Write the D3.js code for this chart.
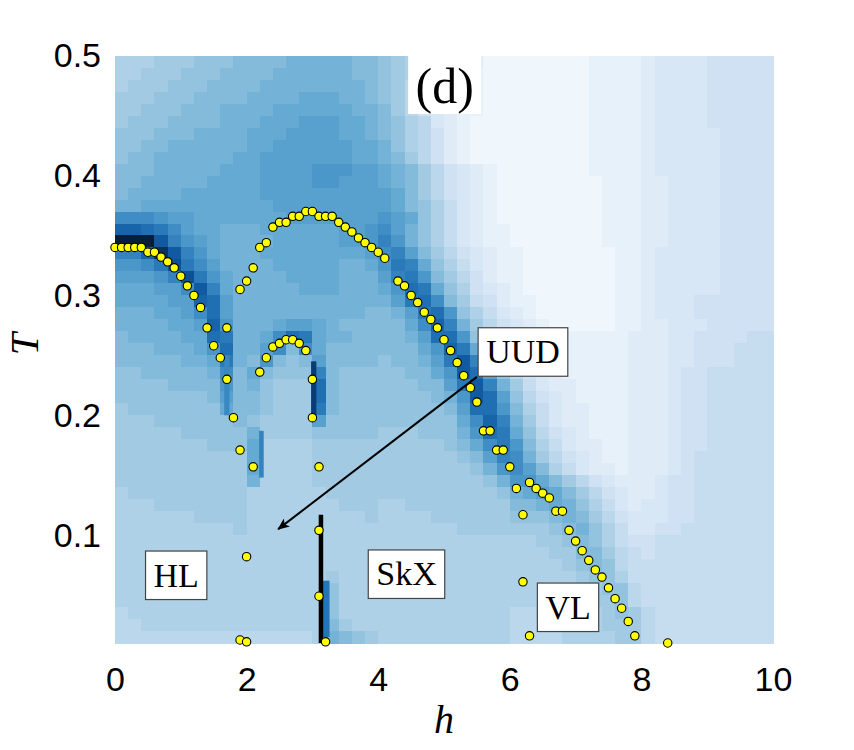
<!DOCTYPE html>
<html>
<head>
<meta charset="utf-8">
<script src="https://cdn.jsdelivr.net/npm/d3@7"></script>
<style>
  body { margin: 0; background: #fff; }
</style>
</head>
<body>
<div id="chart"></div>
<script>
// heat map: one string per T row (top row 0.49-0.50 first), one letter per h bin of 0.2
// letter a..z -> intensity 0..1
const heatRows = [
  "iiijjjkkkl lllmmmmmll kjihgfedbb bbbbbbcccc deeeefffff",
  "iijjjkkkll llmmmmmmll kjihgedcbb bbbbbbcccc deeeefffff",
  "ijjjkkklll lmmmmmmmml kjhgfedcbb bbbbbbcccc deeeefffff",
  "jjjkkkllll mmmmnnnmml kjhgfedcbb bbbbbbcccc deeeefffff",
  "jjkkklllmm mmnnnnnnmm ljhfedccbb bbbbbbcccc deeeefffff",
  "jkkkllllmm mnnnooonnm lkihedcbbb bbbbbbcccc deeeefffff",
  "kkklllmmmm nnnoooonnm lkihfdcbbb bbbbbbcccc deeeeeffff",
  "kkllmmmmmm nnoooooonn mkihfdcbbb bbbbbbcccc deeeeeffff",
  "kllmmmmmmn nooooooonn mljhfdcbbb bbbbbbcccc deeeeeffff",
  "lllmmmmmnn noooopppoo nmljhfedcb bbbbbbcccc deeeeeffff",
  "llmmmmmnnn nooooppooo nmljhfedcb bbbbbbbccc ddeeeeffff",
  "lmmmmnnnnn nooooooooo onljhfedcb bbbbbbbccc ddeeeeffff",
  "mmnnnnnnnn nnoooooooo onlkigedcb bbbbbbbccc ddeeeeffff",
  "qqqpoonnnn nnnooooooo ponkigedcb bbbbbbbccc ddeeeeffff",
  "uutsqonnmm mnnnnnnoop qomkigedcc bbbbbbbccc ddeeeeffff",
  "zzzvrponmm mmnnnnnoop rpmkigedcc bbbbbbbccc ddeeeeffff",
  "rruyvrpnmm mnnnnnnnno qroljhfedc cbbbbbbbcc deeeeeffff",
  "ppqswsqomm mmnnnnnmmn psrnkigedc cbbbbbbbcc deeeeeffff",
  "oooprwspnm mmmnnnnmmm orspljhfdc cbbbbbbbcc deeeeeffff",
  "nnnooqvrnm mmmmnnnmmm nptsnkifed cbbbbbbbcc deeeeeffff",
  "nnnnooutom mmmmmmmmmm mostqljgfd ccbbbbbbcc deeeffffff",
  "mmmnnoqtom mmmmmmmmml lmostpkige dcbbbbbbcc deeeffffff",
  "mmmmnnoupm mmnoonmlll llnqurmjhf edcbbbbbcc ddeeefffff",
  "lmmmmnntsm mnqtsnmmll llmottpkig edcccccccd ddeeffffgg",
  "lllmmmnptm moqlqnllll lllnpusnkh fedccccccd ddeefffggg",
  "lllllmmnsm lplklollll kllmosvrmj geddcccccd ddeefffggg",
  "kklllllmql nlkkkrlkkk kkllnpvtok hfedcccccd ddeffggggg",
  "kkkkllllpl mkjjjtlkkk kkkllosvrm jgeddccccd ddeffggggg",
  "kkkkkkklol lkjjjtlkkk kkkklmpvto khfedccccd ddeffggggg",
  "jkkkkkkknl lkjjjslkkk kkkkklottp ligeddcccd ddeffggggg",
  "jjjkkkkkkl kjjjjokkkk kkkkkknqur mjgeddcccd ddeffggggg",
  "jjjjjkkkkk mjjjjkkkkk jjjkkkmpts nkhfedcccd ddeffggggg",
  "jjjjjjjkkk niiiijjjjj jjjjjklnqs pligeddccd ddeffggggg",
  "jjjjjjjjjj niiiijjjjj jjjjjjklor qmjhfedccd ddefgggggg",
  "jjjjjjjjjj niiiijjjjj jjjjjjjkmp qoligeddcd ddefgggggg",
  "jjjjjjjjjj miiiijjjjj jjjjjjjjkm ppnljhfedd deffgggggg",
  "ijjjjjjjjj iiiiiijjjj jjjjjjjjjk mnonljhfed deffgggggg",
  "iiijjjjjjj iiiiiiijjj iijjjjjjjj llmnmkiged eeffgggggg",
  "iiiiiijjjj iiiiiiiiij iiiijjjjjj kkklmljhfe eeffgggggg",
  "iiiiiiiiij iiiiiiiiii iiiiiijjjj jjjklmkige effggggggg",
  "iiiiiiiiii iiiiiiiiii iiiiiiiiii iijjklkigf fggggggggg",
  "iiiiiiiiii iiiiiiiiii iiiiiiiiii iiijjlljhg fggggggggg",
  "iiiiiiiiii iiiiiiiiii iiiiiiiiii iiiijklkhg gggggggggg",
  "iiiiiiiiii iiiiiijiii iiiiiiiiii iiiiijkkig gggggggggg",
  "iiiiiiiiii iiiiiikiii iiiiiiiiii iiiiiijkkh gggggggggg",
  "iiiiiiiiii iiiiiikiii iiiiiiiiii iiiiiijjkh gggggggggg",
  "hiiiiiiiii iiiiiikiii iiiiiiiiii hhiiiiijkj hggggggggg",
  "hhiiiiiiii iiiiiiljii iiiiiiiiii hhhiiiijjj hggggggggg",
  "hhhhhhhhhh hhhhhimlkj iiiiiiiiii hhhhiiiijj hggggggggg"
];
const hBin = 0.2, tBin = 0.01;

// transition points (h, T)
const ptH = [0, 0.1, 0.2, 0.3, 0.4, 0.5, 0.6, 0.7, 0.8, 0.9, 1.0, 1.1, 1.2, 1.3, 1.4, 1.5, 1.6, 1.7, 1.8, 1.9, 2.1, 2.0, 1.9, 2.0, 1.7,
  1.9, 2.0, 2.1, 2.2, 2.3, 2.4, 2.5, 2.6, 2.7, 2.8, 2.9, 3.0, 3.1, 3.2, 3.3, 3.4, 3.5, 3.6, 3.7, 3.8, 3.9, 4.0, 4.1,
  4.3, 4.4, 4.5, 4.6, 4.7, 4.8, 4.9, 5.0, 5.1, 5.2, 5.3, 5.4, 5.5, 5.6, 5.7, 5.8, 5.9, 6.0, 6.1, 6.2, 6.2, 6.3,
  6.3, 6.4, 6.5, 6.6, 6.7, 6.8, 6.9, 7.0, 7.1, 7.2, 7.3, 7.4, 7.5, 7.6, 7.7, 7.8, 7.9, 8.4,
  2.2, 2.3, 2.4, 2.5, 2.6, 2.7, 2.8, 2.9, 3.0, 3.0, 3.1, 3.1, 3.1, 3.2];
const ptT = [0.34, 0.34, 0.34, 0.34, 0.34, 0.336, 0.336, 0.332, 0.328, 0.323, 0.316, 0.308, 0.300, 0.290, 0.273, 0.258, 0.248, 0.230, 0.198, 0.171, 0.157, 0.082, 0.0125, 0.011, 0.273,
  0.305, 0.312, 0.323, 0.340, 0.344, 0.357, 0.361, 0.361, 0.366, 0.366, 0.370, 0.370, 0.366, 0.366, 0.366, 0.361, 0.357, 0.353, 0.348, 0.344, 0.340, 0.336, 0.331,
  0.312, 0.308, 0.300, 0.294, 0.286, 0.280, 0.273, 0.263, 0.254, 0.244, 0.233, 0.223, 0.211, 0.187, 0.187, 0.171, 0.171, 0.157, 0.139, 0.117, 0.061, 0.016,
  0.144, 0.139, 0.135, 0.131, 0.120, 0.120, 0.104, 0.095, 0.087, 0.079, 0.071, 0.065, 0.056, 0.047, 0.039, 0.028, 0.016, 0.010,
  0.236, 0.248, 0.257, 0.260, 0.263, 0.263, 0.260, 0.254, 0.230, 0.198, 0.157, 0.104, 0.049, 0.011];

// thin dark streaks of the map: [h0, h1, T0, T1, intensity]
const streakH0 = [2.98, 2.19, 1.66, 3.16];
const streakH1 = [3.06, 2.26, 1.74, 3.26];
const streakT0 = [0.198, 0.148, 0.200, 0.015];
const streakT1 = [0.245, 0.187, 0.250, 0.062];
const streakV = [0.94, 0.68, 0.66, 0.74];

// thick vertical line, arrow, phase labels
const barH = 3.13, barT = [0.01, 0.117];
const arrowH = [5.5, 2.48], arrowT = [0.232, 0.105];
const labelText = ["HL", "SkX", "UUD", "VL"];
const labelH = [0.93, 4.43, 6.2, 6.885];
const labelT = [0.0667, 0.0676, 0.253, 0.040];
const xTicks = [0, 2, 4, 6, 8, 10];
const yTicks = [0.1, 0.2, 0.3, 0.4, 0.5];

const width = 854, height = 750;
const marginLeft = 115, plotRight = 773, plotTop = 55.7, plotBottom = 643;

const x = d3.scaleLinear().domain([0, 10]).range([marginLeft, plotRight]);
const y = d3.scaleLinear().domain([0.01, 0.5]).range([plotBottom, plotTop]);

const dark = d3.interpolateRgb(d3.interpolateBlues(0.92), "#0a1e36");
const color = t => t <= 0.92 ? d3.interpolateBlues(t) : dark((t - 0.92) / 0.08);

const cells = [];
heatRows.forEach((row, r) => {
  const s = row.replace(/ /g, "");
  for (let c = 0; c < 50; c++) {
    const ch = s.charAt(c) || s.charAt(s.length - 1);
    cells.push({h0: c * hBin, t1: 0.5 - r * tBin, v: (ch.charCodeAt(0) - 97) / 25});
  }
});

const svg = d3.select("#chart")
  .append("svg")
  .attr("width", width)
  .attr("height", height)
  .attr("viewBox", [0, 0, width, height])
  .style("font-family", "'Liberation Sans', Arial, sans-serif");

svg.append("defs").append("marker")
  .attr("id", "head")
  .attr("viewBox", "0 0 12 10")
  .attr("refX", 11).attr("refY", 5)
  .attr("markerWidth", 12).attr("markerHeight", 10)
  .attr("markerUnits", "userSpaceOnUse")
  .attr("orient", "auto")
  .append("path")
  .attr("d", "M0,0 L12,5 L0,10 L3,5 Z")
  .attr("fill", "#000");

// heat map
svg.append("g")
  .attr("shape-rendering", "crispEdges")
  .selectAll("rect")
  .data(cells)
  .join("rect")
  .attr("x", d => x(d.h0))
  .attr("y", d => y(d.t1))
  .attr("width", d => x(d.h0 + hBin) - x(d.h0) + 0.6)
  .attr("height", d => y(d.t1 - tBin) - y(d.t1) + 0.6)
  .attr("fill", d => color(d.v));

svg.append("g")
  .selectAll("rect")
  .data(streakV)
  .join("rect")
  .attr("x", (d, i) => x(streakH0[i]))
  .attr("width", (d, i) => x(streakH1[i]) - x(streakH0[i]))
  .attr("y", (d, i) => y(streakT1[i]))
  .attr("height", (d, i) => y(streakT0[i]) - y(streakT1[i]))
  .attr("fill", d => color(d));

// black line
svg.append("line")
  .attr("x1", x(barH)).attr("x2", x(barH))
  .attr("y1", y(barT[0])).attr("y2", y(barT[1]))
  .attr("stroke", "#000")
  .attr("stroke-width", 4.5);

// points
svg.append("g")
  .selectAll("circle")
  .data(ptH.map((h, i) => [h, ptT[i]]))
  .join("circle")
  .attr("cx", d => x(d[0]))
  .attr("cy", d => y(d[1]))
  .attr("r", 4.2)
  .attr("fill", "#ffff00")
  .attr("stroke", "#000")
  .attr("stroke-width", 1.1);

// arrow
svg.append("line")
  .attr("x1", x(arrowH[0])).attr("y1", y(arrowT[0]))
  .attr("x2", x(arrowH[1])).attr("y2", y(arrowT[1]))
  .attr("stroke", "#000")
  .attr("stroke-width", 2)
  .attr("marker-end", "url(#head)");

// phase labels
const lab = svg.append("g")
  .selectAll("g")
  .data(labelText)
  .join("g")
  .attr("transform", (d, i) => `translate(${x(labelH[i])},${y(labelT[i])})`);
lab.append("text")
  .attr("text-anchor", "middle")
  .attr("y", 11.5)
  .attr("font-family", "'Liberation Serif', 'Times New Roman', serif")
  .attr("font-size", 34)
  .text(d => d);
lab.each(function() {
  const g = d3.select(this);
  const b = g.select("text").node().getBBox();
  g.insert("rect", "text")
    .attr("x", b.x - 8).attr("width", b.width + 16)
    .attr("y", -24).attr("height", 48.5)
    .attr("fill", "#fff")
    .attr("stroke", "#444")
    .attr("stroke-width", 1.2);
});

// panel tag
svg.append("rect")
  .attr("x", x(5.01) - 36.5).attr("y", 40)
  .attr("width", 73).attr("height", 74)
  .attr("fill", "#fff");
svg.append("text")
  .attr("x", x(5.01)).attr("y", 103)
  .attr("text-anchor", "middle")
  .attr("font-family", "'Liberation Serif', 'Times New Roman', serif")
  .attr("font-size", 50)
  .text("(d)");

// axes
svg.append("g")
  .attr("transform", `translate(0,${plotBottom})`)
  .call(d3.axisBottom(x).tickValues(xTicks).tickSize(0).tickPadding(24))
  .call(g => g.select(".domain").remove())
  .call(g => g.selectAll("text").attr("font-size", 34).attr("font-family", "'Liberation Sans', Arial, sans-serif").attr("fill", "#000"));

svg.append("g")
  .attr("transform", `translate(${marginLeft},0)`)
  .call(d3.axisLeft(y).tickValues(yTicks).tickFormat(d3.format(".1f")).tickSize(0).tickPadding(14))
  .call(g => g.select(".domain").remove())
  .call(g => g.selectAll("text").attr("font-size", 34).attr("font-family", "'Liberation Sans', Arial, sans-serif").attr("fill", "#000"));

svg.append("text")
  .attr("x", x(5)).attr("y", 733)
  .attr("text-anchor", "middle")
  .attr("font-family", "'Liberation Serif', 'Times New Roman', serif")
  .attr("font-style", "italic")
  .attr("font-size", 40)
  .text("h");

svg.append("text")
  .attr("transform", "translate(38,344) rotate(-90)")
  .attr("text-anchor", "middle")
  .attr("font-family", "'Liberation Serif', 'Times New Roman', serif")
  .attr("font-style", "italic")
  .attr("font-size", 40)
  .text("T");
</script>
</body>
</html>
